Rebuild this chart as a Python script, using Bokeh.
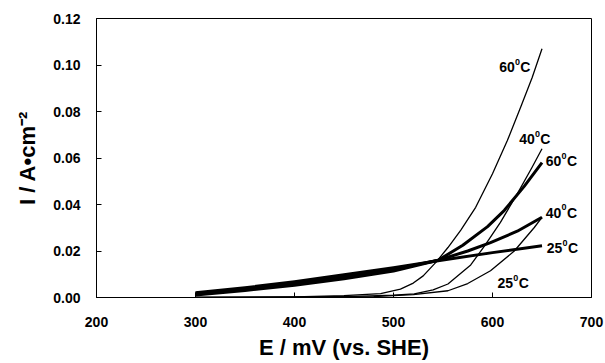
from bokeh.plotting import figure
from bokeh.models import Range1d, ColumnDataSource, PrintfTickFormatter, FixedTicker
from bokeh.core.properties import value
from bokeh.embed import file_html
from bokeh.resources import INLINE

# ---- data ----
# thin curves (lower set)
thin25_E = [300, 400, 480, 520, 555, 575, 598, 622, 642, 650]
thin25_I = [0.0000, 0.0001, 0.0004, 0.0012, 0.0029, 0.0060, 0.0115, 0.0200, 0.0300, 0.0345]

thin40_E = [300, 400, 460, 500, 521, 540, 555, 578, 592, 608, 625, 640, 650]
thin40_I = [0.0000, 0.0002, 0.0005, 0.0010, 0.0016, 0.0033, 0.0058, 0.0140, 0.0222, 0.0323, 0.0446, 0.0560, 0.0640]

thin60_E = [300, 400, 450, 487, 507, 520, 530, 543, 555, 568, 583, 600, 615, 629, 640, 650]
thin60_I = [0.0000, 0.0003, 0.0008, 0.0017, 0.0036, 0.0062, 0.0093, 0.0152, 0.0215, 0.0290, 0.0388, 0.0532, 0.0675, 0.0825, 0.0945, 0.1070]

# thick curves (upper set)
thick25_E = [300, 350, 400, 450, 500, 545, 600, 650]
thick25_I = [0.0020, 0.0042, 0.0068, 0.0098, 0.0128, 0.0158, 0.0193, 0.0223]

thick40_E = [300, 350, 400, 450, 500, 545, 575, 598, 625, 650]
thick40_I = [0.0016, 0.0036, 0.0060, 0.0089, 0.0121, 0.0160, 0.0200, 0.0236, 0.0285, 0.0345]

thick60_E = [300, 350, 400, 450, 500, 545, 570, 595, 612, 632, 650]
thick60_I = [0.0011, 0.0030, 0.0053, 0.0081, 0.0114, 0.0160, 0.0225, 0.0305, 0.0375, 0.0478, 0.0580]

label_temp = ["60", "40", "60", "40", "25", "25"]
label_E = [606.7, 626.9, 653.8, 653.8, 654.8, 605.0]
label_I = [0.0990, 0.0680, 0.0585, 0.0365, 0.0212, 0.0062]

x_ticks = [200, 300, 400, 500, 600, 700]
y_ticks = [0.0, 0.02, 0.04, 0.06, 0.08, 0.10, 0.12]

x_title = "E / mV (vs. SHE)"
y_title = "I / A\u2022cm\u207b\u00b2"

FONT = "Liberation Sans"

p = figure(width=605, height=363, output_backend="svg", toolbar_location=None,
           x_range=Range1d(200, 700), y_range=Range1d(0, 0.12),
           min_border_left=96, min_border_right=14, min_border_top=18, min_border_bottom=66)
p.background_fill_color = "white"
p.border_fill_color = "white"
p.outline_line_color = "black"
p.outline_line_width = 1
p.grid.visible = False

for E, I in [(thin25_E, thin25_I), (thin40_E, thin40_I), (thin60_E, thin60_I)]:
    p.line(E, I, line_color="black", line_width=1.3, line_join="round")
for E, I in [(thick25_E, thick25_I), (thick40_E, thick40_I), (thick60_E, thick60_I)]:
    p.line(E, I, line_color="black", line_width=3, line_join="round")

src = ColumnDataSource(dict(x=label_E, y=label_I, t=label_temp,
                            s=["0"] * len(label_temp), c=["C"] * len(label_temp)))
p.text(x="x", y="y", text="t", source=src, text_font=value(FONT), text_font_style="bold",
       text_font_size="14px", text_color="black", text_baseline="alphabetic", text_align="left")
p.text(x="x", y="y", text="s", source=src, text_font=value(FONT), text_font_style="bold",
       text_font_size="9px", text_color="black", text_baseline="alphabetic", text_align="left",
       x_offset=15.8, y_offset=-5.5)
p.text(x="x", y="y", text="c", source=src, text_font=value(FONT), text_font_style="bold",
       text_font_size="14px", text_color="black", text_baseline="alphabetic", text_align="left",
       x_offset=21.2)

for ax in (p.xaxis[0], p.yaxis[0]):
    ax.axis_line_color = "black"
    ax.axis_line_width = 1
    ax.major_tick_line_color = "black"
    ax.major_tick_in = 5
    ax.major_tick_out = 0
    ax.minor_tick_line_color = None
    ax.major_label_text_font = FONT
    ax.major_label_text_font_style = "bold"
    ax.major_label_text_font_size = "14px"
    ax.major_label_text_color = "black"
    ax.axis_label_text_font = FONT
    ax.axis_label_text_font_style = "bold"
    ax.axis_label_text_font_size = "22px"
    ax.axis_label_text_color = "black"

p.xaxis.ticker = FixedTicker(ticks=x_ticks)
p.yaxis.ticker = FixedTicker(ticks=y_ticks)
p.yaxis.formatter = PrintfTickFormatter(format="%.2f")
p.xaxis.major_label_standoff = 19
p.yaxis.major_label_standoff = 16
p.xaxis.axis_label = x_title
p.xaxis.axis_label_standoff = 5
p.yaxis.axis_label = y_title
p.yaxis.axis_label_standoff = 10

open("out.html", "w").write(file_html(p, INLINE))
